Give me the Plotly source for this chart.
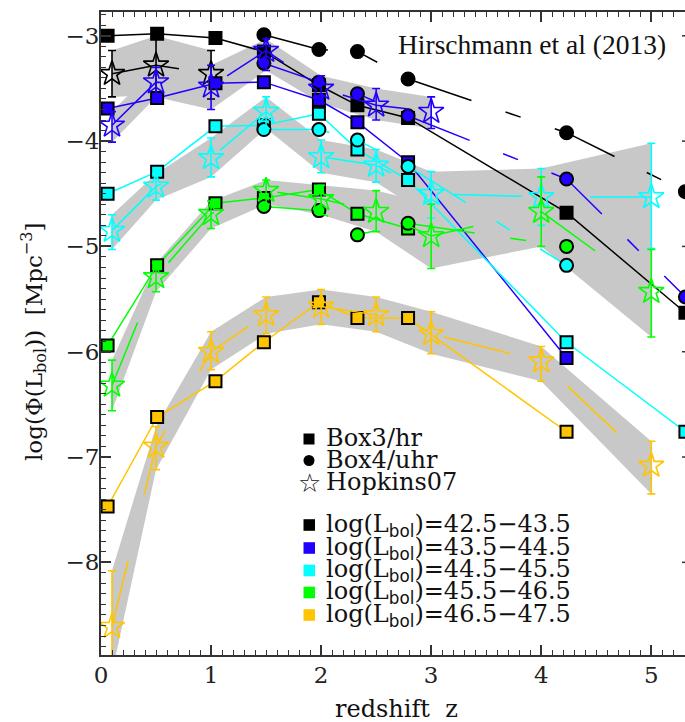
import plotly.graph_objects as go

# Redshifts of the simulation outputs and of the Hopkins et al. (2007) points
z_sim = [0.06, 0.51, 1.04, 1.48, 1.98, 2.33, 2.79, 4.23, 5.31]
z_hop = [0.1, 0.5, 1.0, 1.5, 2.0, 2.5, 3.0, 4.0, 5.0]

bin_labels = ["42.5−43.5", "43.5−44.5", "44.5−45.5", "45.5−46.5", "46.5−47.5"]
bin_colors = ["#000000", "#2200ff", "#00ffff", "#00ff00", "#ffc400"]

# log(Phi) [Mpc^-3] per luminosity bin; None = no value at that redshift
# Box3/hr
box3_k = [-3.00, -2.98, -3.02, -3.15, -3.47, -3.66, -3.78, -4.68, -5.63]
box3_b = [-3.69, -3.59, -3.45, -3.44, -3.61, -3.82, -4.20, -6.06, None]
box3_c = [-4.50, -4.29, -3.86, -3.85, -3.74, -4.08, -4.37, -5.91, -6.76]
box3_g = [-5.94, -5.18, -4.59, -4.54, -4.46, -4.69, -4.83, None, None]
box3_y = [-7.47, -6.62, -6.28, -5.91, -5.53, -5.68, -5.68, -6.76, None]

# Box4/uhr
box4_k = [None, None, None, -2.99, -3.13, -3.15, -3.41, -3.92, -4.48]
box4_b = [None, None, None, -3.26, -3.44, -3.55, -3.76, -4.36, -5.48]
box4_c = [None, None, None, -3.89, -3.89, -3.99, -4.24, -5.18, None]
box4_g = [None, None, None, -4.62, -4.66, -4.89, -4.78, -5.00, None]
box4_y = [None, None, None, None, None, None, None, None, None]

# Hopkins07: value, upper and lower limit
hop_k = [-3.36, -3.28, -3.36]
hop_k_hi = [-3.14, -3.00, -3.14]
hop_k_lo = [-3.58, -3.56, -3.60]

hop_b = [-3.85, -3.44, -3.48, -3.14, -3.50, -3.66, -3.72]
hop_b_hi = [-3.72, -3.30, -3.28, -3.03, -3.38, -3.50, -3.58]
hop_b_lo = [-4.01, -3.58, -3.70, -3.33, -3.64, -3.80, -3.88]

hop_c = [-4.85, -4.43, -4.16, -3.72, -4.15, -4.23, -4.50, -4.53, -4.53]
hop_c_hi = [-4.70, -4.31, -3.97, -3.58, -3.99, -4.08, -4.29, -4.26, -4.02]
hop_c_lo = [-5.03, -4.56, -4.34, -3.88, -4.30, -4.39, -4.73, -4.80, -5.02]

hop_g = [-6.32, -5.29, -4.69, -4.47, -4.55, -4.67, -4.90, -4.67, -5.43]
hop_g_hi = [-6.08, -5.16, -4.57, -4.37, -4.42, -4.47, -4.60, -4.34, -5.03]
hop_g_lo = [-6.56, -5.43, -4.83, -4.60, -4.70, -4.86, -5.21, -5.00, -5.86]

hop_y = [-8.61, -6.90, -6.00, -5.65, -5.57, -5.65, -5.83, -6.09, -7.08]
hop_y_hi = [-8.08, -6.71, -5.81, -5.48, -5.41, -5.48, -5.62, -5.95, -6.85]
hop_y_lo = [-9.05, -7.12, -6.17, -5.83, -5.74, -5.81, -6.02, -6.28, -7.35]

box3 = [box3_k, box3_b, box3_c, box3_g, box3_y]
box4 = [box4_k, box4_b, box4_c, box4_g, box4_y]
hop = [hop_k, hop_b, hop_c, hop_g, hop_y]
hop_hi = [hop_k_hi, hop_b_hi, hop_c_hi, hop_g_hi, hop_y_hi]
hop_lo = [hop_k_lo, hop_b_lo, hop_c_lo, hop_g_lo, hop_y_lo]

# figure geometry (pixels)
W, H = 685, 722
ML, MR, MT, MB = 101, 0, 12, 67
PW, PH = W - ML - MR, H - MT - MB


def px(x):
    return (x - ML) / PW


def py(y):
    return (H - MB - y) / PH


fig = go.Figure()

# grey model uncertainty bands
for vals, hi, lo in zip(hop, hop_hi, hop_lo):
    zz = z_hop[:len(vals)]
    fig.add_trace(go.Scatter(
        x=zz + zz[::-1], y=hi + lo[::-1], mode="lines", fill="toself",
        fillcolor="#c8c8c8", line=dict(width=0), hoverinfo="skip",
        showlegend=False))

for col, s3, s4, hv, hi, lo in zip(bin_colors, box3, box4, hop, hop_hi, hop_lo):
    # Box3/hr: squares, solid line
    fig.add_trace(go.Scatter(
        x=z_sim, y=s3, mode="lines+markers",
        line=dict(color=col, width=1.5),
        marker=dict(symbol="square", size=12, color=col,
                    line=dict(color="#000000", width=2)),
        showlegend=False))
    # Box4/uhr: circles, dash-dot line
    if any(v is not None for v in s4):
        fig.add_trace(go.Scatter(
            x=z_sim, y=s4, mode="lines+markers",
            line=dict(color=col, width=1.5, dash="66px,36px,16px,36px"),
            marker=dict(symbol="circle", size=13, color=col,
                        line=dict(color="#000000", width=2)),
            showlegend=False))
    # Hopkins07: open stars with error bars, dashed line
    zz = z_hop[:len(hv)]
    fig.add_trace(go.Scatter(
        x=zz, y=hv, mode="lines+markers",
        line=dict(color=col, width=1.5, dash="68px,68px"),
        marker=dict(symbol="star-open", size=19, color=col,
                    line=dict(color=col, width=1.6)),
        error_y=dict(type="data", symmetric=False,
                     array=[h - v for h, v in zip(hi, hv)],
                     arrayminus=[v - l for l, v in zip(lo, hv)],
                     color=col, thickness=1.6, width=4),
        showlegend=False))

axis_common = dict(
    showline=True, linecolor="#333333", linewidth=2,
    ticks="inside", ticklen=10, tickwidth=1.5, tickcolor="#333333",
    showgrid=False, zeroline=False,
    tickfont=dict(family="DejaVu Serif", size=23, color="#222222"),
)

fig.update_xaxes(range=[0, PW / 110.06], dtick=1, tick0=0, mirror="ticks",
                 minor=dict(dtick=0.1, ticks="inside", ticklen=5,
                            tickwidth=1.2, tickcolor="#333333"),
                 ticklabelstandoff=-2, **axis_common)
fig.update_yaxes(range=[-8.88, -2.774], dtick=1, tick0=0, mirror=False,
                 minor=dict(dtick=0.1, ticks="inside", ticklen=5,
                            tickwidth=1.2, tickcolor="#333333"),
                 ticklabelstandoff=-5, **axis_common)

shapes = []
# major tick stubs of the right-hand axis at the panel edge
for v in [-3, -4, -5, -6, -7, -8]:
    shapes.append(dict(type="line", xref="paper", yref="y",
                       x0=1 - 3 / PW, x1=1, y0=v, y1=v,
                       line=dict(color="#333333", width=1.5)))


def note(text, x, y, size, family="DejaVu Serif", xanchor="center", **kw):
    return dict(text=text, x=px(x), y=py(y), xref="paper", yref="paper",
                xanchor=xanchor, yanchor="middle", showarrow=False,
                font=dict(family=family, size=size, color="#111111"), **kw)


annotations = [
    note("Hirschmann et al (2013)", 532, 45, 27.5, family="Liberation Serif"),
    note("redshift  z", 396, 709, 24),
    note("log(Φ(L<sub>bol</sub>))  [Mpc<sup>−3</sup>]", 33, 342, 23,
         textangle=-90),
]

# legend block
sym_rows = [("square", "Box3/hr", 439), ("circle", "Box4/uhr", 460.5),
            ("star", "Hopkins07", 482.5)]
for kind, label, yc in sym_rows:
    if kind == "square":
        shapes.append(dict(type="rect", xref="paper", yref="paper",
                           x0=px(303.5), x1=px(314.5), y0=py(yc + 5.5), y1=py(yc - 5.5),
                           fillcolor="#000000", line=dict(width=0)))
    elif kind == "circle":
        shapes.append(dict(type="circle", xref="paper", yref="paper",
                           x0=px(303.5), x1=px(314.5), y0=py(yc + 5.5), y1=py(yc - 5.5),
                           fillcolor="#000000", line=dict(width=0)))
    else:
        annotations.append(note("☆", 309, yc, 26, family="DejaVu Sans"))
    annotations.append(note(label, 324, yc - 1, 24, xanchor="left"))

bin_rows = [525, 548, 570.5, 592.5, 615]
for col, lab, yc in zip(bin_colors, bin_labels, bin_rows):
    shapes.append(dict(type="rect", xref="paper", yref="paper",
                       x0=px(303.5), x1=px(315), y0=py(yc + 5.8), y1=py(yc - 5.8),
                       fillcolor=col, line=dict(width=0)))
    annotations.append(note(
        "log(L<sub><span style='font-family:DejaVu Sans'>bol</span></sub>)=" + lab,
        324, yc, 24, xanchor="left"))

fig.update_layout(
    width=W, height=H,
    margin=dict(l=ML, r=MR, t=MT, b=MB, pad=0),
    paper_bgcolor="#ffffff", plot_bgcolor="#ffffff",
    showlegend=False,
    shapes=shapes, annotations=annotations,
)

fig.write_html("out.html")
